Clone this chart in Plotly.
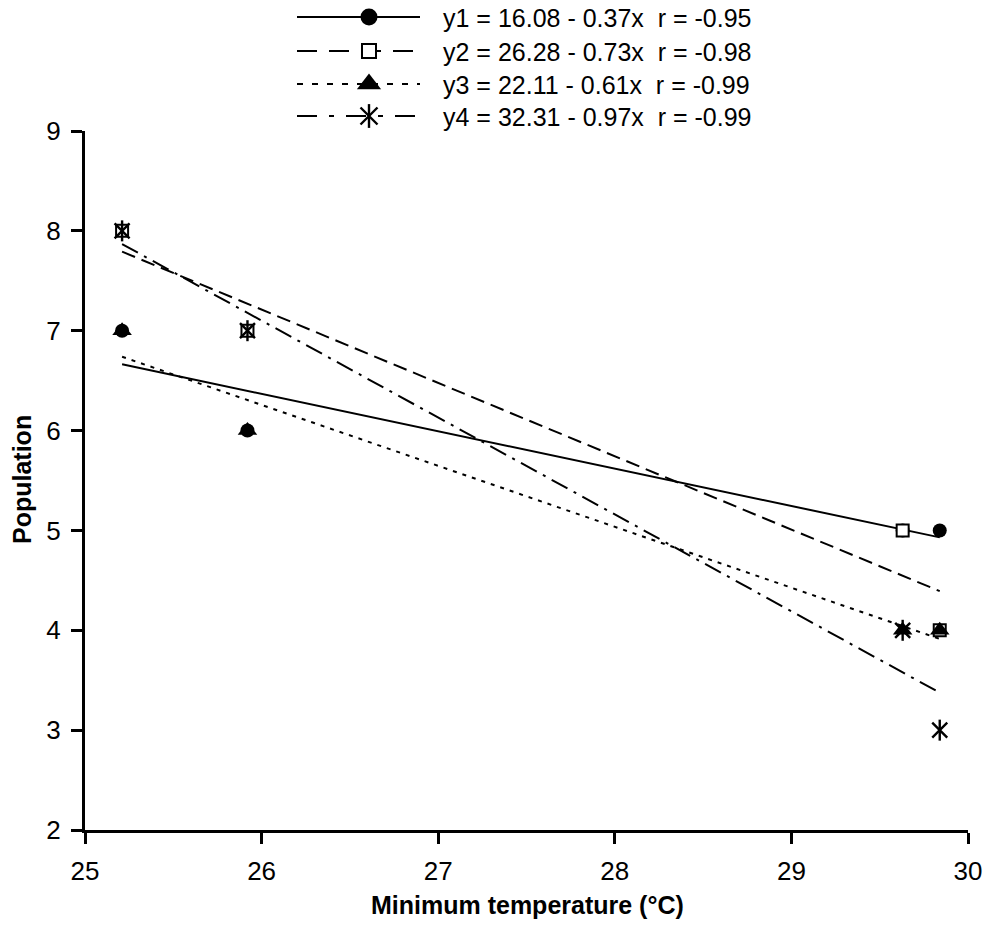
import numpy as np
import plotly.graph_objects as go

# ---------------- data ----------------
temp = [25.21, 25.92, 29.63, 29.84]
y1 = [7, 6, 5, 5]
y2 = [8, 7, 5, 4]
y3 = [7, 6, 4, 4]
y4 = [8, 7, 4, 3]
labels = [
    "y1 = 16.08 - 0.37x  r = -0.95",
    "y2 = 26.28 - 0.73x  r = -0.98",
    "y3 = 22.11 - 0.61x  r = -0.99",
    "y4 = 32.31 - 0.97x  r = -0.99",
]
x_ticks = [25, 26, 27, 28, 29, 30]
y_ticks = [2, 3, 4, 5, 6, 7, 8, 9]

W, H = 984, 933
FONT = "Liberation Sans, Arial, sans-serif"

# plot-area pixel box
X0, X1 = 85, 968
Y_TOP, Y_BOT = 131, 830

series = [
    dict(y=y1, dash="solid", ldash="solid", sym="circle", size=14, lsize=17, fill="black"),
    dict(y=y2, dash="14px,7px", ldash="20px,12px", sym="square", size=12, lsize=14, fill="white"),
    dict(y=y3, dash="4px,6px", ldash="6px,9px", sym="triangle-up", size=17, lsize=21, fill="black"),
    dict(y=y4, dash="18px,7px,3px,7px", ldash="20px,12px,5px,12px", sym="star6", size=15, lsize=17, fill="black"),
]

fig = go.Figure()

# regression lines
xr = np.array([min(temp), max(temp)])
for s in series:
    b, a = np.polyfit(temp, s["y"], 1)
    fig.add_trace(go.Scatter(x=xr, y=a + b * xr, mode="lines",
                             line=dict(color="black", width=2, dash=s["dash"]),
                             showlegend=False, hoverinfo="skip"))


def add_markers(xv, yv, s, size, xa="x", ya="y"):
    if s["sym"] == "star6":
        for sym in ["x-thin-open", "line-ns-open"]:
            fig.add_trace(go.Scatter(x=xv, y=yv, mode="markers", xaxis=xa, yaxis=ya,
                                     marker=dict(symbol=sym, size=size, color="black",
                                                 line=dict(color="black", width=2.4)),
                                     showlegend=False, hoverinfo="skip"))
    else:
        fig.add_trace(go.Scatter(x=xv, y=yv, mode="markers", xaxis=xa, yaxis=ya,
                                 marker=dict(symbol=s["sym"], size=size, color=s["fill"],
                                             line=dict(color="black", width=2 if s["fill"] == "white" else 0)),
                                 showlegend=False, hoverinfo="skip"))


for s in series:
    add_markers(temp, s["y"], s, s["size"])

# -------- custom legend on a full-page overlay axis --------
leg_rows = [17, 51, 84, 116]
for s, yy in zip(series, leg_rows):
    fig.add_trace(go.Scatter(x=[297, 420], y=[yy, yy], mode="lines", xaxis="x2", yaxis="y2",
                             line=dict(color="black", width=2, dash=s["ldash"]),
                             showlegend=False, hoverinfo="skip"))
    add_markers([369], [yy], s, s["lsize"], "x2", "y2")

for lab, yy in zip(labels, leg_rows):
    fig.add_annotation(text=lab, x=441 / W, y=1 - (yy + 1) / H, xref="paper", yref="paper",
                       xanchor="left", yanchor="middle", showarrow=False,
                       font=dict(family=FONT, size=25, color="black"))

# axis titles
fig.add_annotation(text="<b>Minimum temperature (°C)</b>", x=527 / W, y=1 - 905 / H,
                   xref="paper", yref="paper", xanchor="center", yanchor="middle",
                   showarrow=False, font=dict(family=FONT, size=25, color="black"))
fig.add_annotation(text="<b>Population</b>", x=22 / W, y=1 - 480 / H, textangle=-90,
                   xref="paper", yref="paper", xanchor="center", yanchor="middle",
                   showarrow=False, font=dict(family=FONT, size=25, color="black"))

fig.update_layout(
    width=W, height=H,
    margin=dict(l=0, r=0, t=0, b=0, pad=0, autoexpand=False),
    paper_bgcolor="white", plot_bgcolor="rgba(0,0,0,0)",
    showlegend=False,
    font=dict(family=FONT, size=25, color="black"),
    xaxis=dict(domain=[X0 / W, X1 / W], range=[25, 30], tickvals=x_ticks,
               showline=True, linecolor="black", linewidth=3, mirror=False,
               ticks="outside", ticklen=11, tickwidth=3, tickcolor="black",
               showgrid=False, zeroline=False, ticklabelstandoff=5, automargin=False,
               tickfont=dict(family=FONT, size=26), fixedrange=True),
    yaxis=dict(domain=[1 - Y_BOT / H, 1 - Y_TOP / H], range=[2, 9], tickvals=y_ticks,
               showline=True, linecolor="black", linewidth=3, mirror=False,
               ticks="outside", ticklen=11, tickwidth=3, tickcolor="black",
               showgrid=False, zeroline=False, ticklabelstandoff=5, automargin=False,
               tickfont=dict(family=FONT, size=26), fixedrange=True),
    xaxis2=dict(domain=[0, 1], range=[0, W], visible=False, anchor="y2",
                fixedrange=True, automargin=False),
    yaxis2=dict(domain=[0, 1], range=[H, 0], visible=False, anchor="x2",
                fixedrange=True, automargin=False),
)

fig.write_html("out.html")
